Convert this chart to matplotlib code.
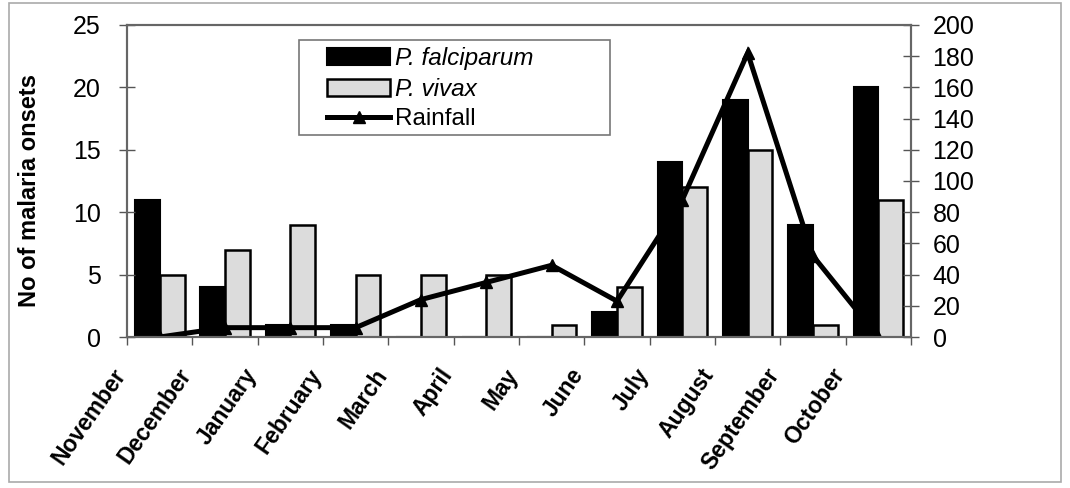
import numpy as np
import matplotlib
matplotlib.use("Agg")
import matplotlib.pyplot as plt
from matplotlib.patches import Rectangle

plt.rcParams['font.family'] = ['Liberation Sans', 'DejaVu Sans']

# data
months = ['November', 'December', 'January', 'February', 'March', 'April',
          'May', 'June', 'July', 'August', 'September', 'October']
falciparum = [11, 4, 1, 1, 0, 0, 0, 2, 14, 19, 9, 20]
vivax = [5, 7, 9, 5, 5, 5, 1, 4, 12, 15, 1, 11]
rainfall = [0, 6, 6, 6, 24, 35, 46, 23, 88, 182, 52, 0]

fig = plt.figure(figsize=(10.7, 4.88), dpi=100, facecolor='white')
ax = fig.add_axes([0.1187, 0.3094, 0.7327, 0.6394])
ax2 = ax.twinx()

x = np.arange(len(months))
w = 0.38
b1 = ax.bar(x - w/2, falciparum, w, color='black', edgecolor='black',
            linewidth=1.5, label='P. falciparum')
b2 = ax.bar(x + w/2, vivax, w, color='#dcdcdc', edgecolor='black',
            linewidth=1.8, label='P. vivax')
l1, = ax2.plot(x, rainfall, color='black', linewidth=3.6, marker='^',
               markersize=8, label='Rainfall', solid_joinstyle='miter')

ax.set_xlim(-0.5, 11.5)
ax.set_ylim(0, 25)
ax2.set_ylim(0, 200)
ax.set_yticks(np.arange(0, 26, 5))
ax2.set_yticks(np.arange(0, 201, 20))

# month labels sit on the category boundaries, like the original
ax.set_xticks(np.arange(13) - 0.5)
ax.set_xticklabels(months + [''], rotation=55, ha='right', va='baseline',
                   rotation_mode='anchor', fontsize=16.5, fontweight='bold')
ax.tick_params(axis='x', direction='out', length=6, width=1, color='#555555', pad=21)
ax.tick_params(axis='y', direction='inout', length=12, width=1, color='#555555',
               labelsize=18, pad=13)
ax2.tick_params(axis='y', direction='inout', length=12, width=1, color='#555555',
                labelsize=18, pad=9.5)

for a in (ax, ax2):
    for s in a.spines.values():
        s.set_color('#666666')
        s.set_linewidth(1.5)

ax.set_ylabel('No of malaria onsets', fontsize=17, fontweight='bold', va='center')
ax.yaxis.set_label_coords(-0.124, 0.47)

# legend box drawn separately so the handles can sit further in
ax2.add_patch(Rectangle((0.22, 0.647), 0.396, 0.305, transform=ax2.transAxes,
                        facecolor='white', edgecolor='#777777', linewidth=1.2,
                        zorder=4))
leg = ax2.legend([b1, b2, l1], ['P. falciparum', 'P. vivax', 'Rainfall'],
                 loc='upper left', bbox_to_anchor=(0.255, 0.93), fontsize=17.5,
                 frameon=False, handlelength=2.6, handleheight=0.7,
                 handletextpad=0.2, labelspacing=0.32, borderpad=0,
                 borderaxespad=0)
leg.set_zorder(5)
for t in leg.get_texts()[:2]:
    t.set_style('italic')

# thin border round the whole picture
fig.patches.append(Rectangle((0.008, 0.012), 0.984, 0.982, transform=fig.transFigure,
                             fill=False, edgecolor='#aaaaaa', linewidth=1.2))

fig.savefig('out.png', dpi=100)
